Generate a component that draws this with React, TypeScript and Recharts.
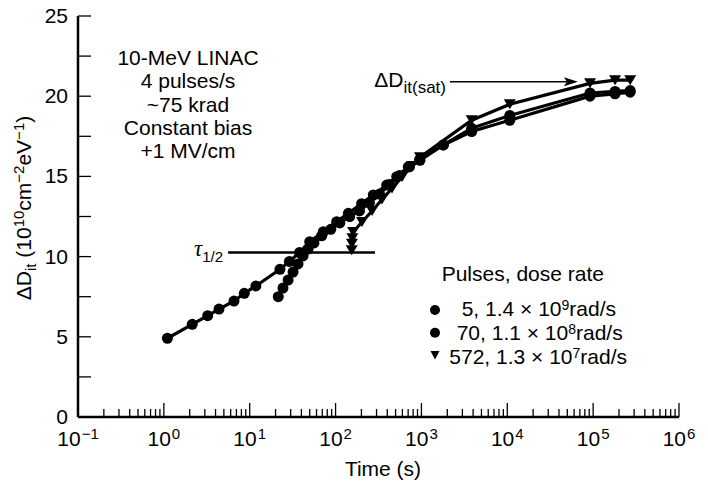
import React from "react";
import { ComposedChart, Line, XAxis, YAxis, ReferenceLine } from "recharts";

// 5 pulses, 1.4e9 rad/s (circles)
const A_T = [1.1, 2.14, 3.24, 4.39, 6.56, 8.65, 11.8, 22.5, 29, 38, 50, 72, 103, 141, 201, 275, 394, 515, 703, 962, 1800, 3850, 10700, 92000, 180000, 270000];
const A_V = [4.91, 5.78, 6.32, 6.73, 7.23, 7.71, 8.17, 9.21, 9.7, 10.25, 10.93, 11.55, 12.18, 12.7, 13.3, 13.84, 14.46, 14.98, 15.6, 16.0, 16.96, 18.0, 18.8, 20.2, 20.3, 20.35];

// 70 pulses, 1.1e8 rad/s (circles)
const B_T = [21.5, 24.4, 28, 32, 36.5, 41.8, 47.8, 56, 69, 88, 112, 146, 190, 248, 325, 425, 555, 725, 950, 1800, 3850, 10700, 92000, 180000, 270000];
const B_V = [7.5, 8.04, 8.54, 9.04, 9.54, 10.04, 10.47, 10.85, 11.3, 11.7, 12.1, 12.5, 12.85, 13.35, 13.9, 14.5, 15.05, 15.6, 16.05, 16.96, 17.8, 18.5, 20.0, 20.15, 20.25];

// 572 pulses, 1.3e7 rad/s (triangles)
const C_T = [154, 155, 157, 160, 203, 266, 347, 454, 594, 777, 962, 3850, 10700, 92000, 180000, 270000];
const C_V = [10.4, 10.8, 11.15, 11.53, 12.16, 12.84, 13.56, 14.25, 14.96, 15.65, 16.2, 18.5, 19.5, 20.8, 21.0, 21.0];

const DECADES = [0.1, 1, 10, 100, 1000, 10000, 100000, 1000000];
const DECADE_EXP = ["−1", "0", "1", "2", "3", "4", "5", "6"];
const Y_TICKS = [0, 2.5, 5, 7.5, 10, 12.5, 15, 17.5, 20, 22.5, 25];
const Y_LABELS = [0, 5, 10, 15, 20, 25];

// half-life marker and saturation arrow (time, value)
const TAU_T = [5.6, 288];
const TAU_V = 10.25;
const SAT_T = [2150, 66500];
const SAT_V = 20.9;

const INFO_LINES = ["10-MeV LINAC", "4 pulses/s", "~75 krad", "Constant bias", "+1 MV/cm"];

const X_TICKS: number[] = [];
DECADES.forEach((d, i) => {
  X_TICKS.push(d);
  if (i < DECADES.length - 1) [2, 3, 4, 5, 6, 7, 8, 9].forEach((k) => X_TICKS.push(k * d));
});

const toRows = (t: number[], v: number[]) => t.map((x, i) => ({ t: x, v: v[i] }));
const dataA = toRows(A_T, A_V);
const dataB = toRows(B_T, B_V);
const dataC = toRows(C_T, C_V);

const FONT = "'Liberation Sans', Arial, Helvetica, sans-serif";
const FS = 21;
const SUP = 15;

const isMajor = (v: number) => DECADES.some((d) => Math.abs(d - v) / d < 1e-9);

function BottomTick(props: any) {
  const { x, y, payload } = props;
  const idx = DECADES.findIndex((d) => Math.abs(d - payload.value) / d < 1e-9);
  const major = idx >= 0;
  return (
    <g>
      <line x1={x} x2={x} y1={y} y2={y - (major ? 14 : 8)} stroke="#000" strokeWidth={1.3} />
      {major && (
        <text x={x} y={y + 29} textAnchor="middle" fontFamily={FONT} fontSize={FS} fill="#000">
          10<tspan dx={1} dy={-7} fontSize={SUP}>{DECADE_EXP[idx]}</tspan>
        </text>
      )}
    </g>
  );
}

function TopTick(props: any) {
  const { x, y, payload } = props;
  const major = isMajor(payload.value);
  return <line x1={x} x2={x} y1={y} y2={y + (major ? 14 : 8)} stroke="#000" strokeWidth={1.3} />;
}

function LeftTick(props: any) {
  const { x, y, payload } = props;
  const labeled = Y_LABELS.includes(payload.value);
  return (
    <g>
      <line x1={x} x2={x + 13} y1={y} y2={y} stroke="#000" strokeWidth={1.3} />
      {labeled && (
        <text x={x - 10} y={y + 7} textAnchor="end" fontFamily={FONT} fontSize={FS} fill="#000">
          {payload.value}
        </text>
      )}
    </g>
  );
}

function RightTick(props: any) {
  const { x, y } = props;
  return <line x1={x} x2={x - 13} y1={y} y2={y} stroke="#000" strokeWidth={1.3} />;
}

function CircleDot(props: any) {
  const { cx, cy, index } = props;
  return <circle key={index} cx={cx} cy={cy} r={5.5} fill="#000" />;
}

function TriDot(props: any) {
  const { cx, cy, index } = props;
  return <polygon key={index} points={`${cx - 6},${cy - 5} ${cx + 6},${cy - 5} ${cx},${cy + 5}`} fill="#000" />;
}

function TauShape(props: any) {
  const { x1, y1, x2, y2 } = props;
  return (
    <g>
      <line x1={x1} y1={y1} x2={x2} y2={y2} stroke="#000" strokeWidth={2.5} />
      <text x={x1 - 5} y={y1 + 3} textAnchor="end" fontFamily="'Liberation Serif', 'Times New Roman', serif" fontSize={23} fontStyle="italic" fill="#000">
        τ<tspan dy={6} fontSize={15} fontStyle="normal" fontFamily={FONT}>1/2</tspan>
      </text>
    </g>
  );
}

function SatShape(props: any) {
  const { x1, y1, x2, y2 } = props;
  return (
    <g>
      <line x1={x1} y1={y1} x2={x2 - 10} y2={y2} stroke="#000" strokeWidth={1.5} />
      <polygon points={`${x2},${y2} ${x2 - 14},${y2 - 4.5} ${x2 - 11},${y2} ${x2 - 14},${y2 + 4.5}`} fill="#000" />
      <text x={x1 - 4} y={y1 + 5} textAnchor="end" fontFamily={FONT} fontSize={FS} fill="#000">
        ΔD<tspan dy={6.5} fontSize={17}>it(sat)</tspan>
      </text>
    </g>
  );
}

function Overlay() {
  const legendRows = [
    { x: 461.7, y: 316, pre: "5, 1.4 × 10", sup: "9", mark: "c", my: 310 },
    { x: 456.7, y: 339.5, pre: "70, 1.1 × 10", sup: "8", mark: "c", my: 332.7 },
    { x: 449.3, y: 363.5, pre: "572, 1.3 × 10", sup: "7", mark: "t", my: 355 },
  ];
  return (
    <svg width={708} height={481} style={{ position: "absolute", left: 0, top: 0, pointerEvents: "none" }}>
      {INFO_LINES.map((s, i) => (
        <text key={s} x={188} y={65 + i * 23.3} textAnchor="middle" fontFamily={FONT} fontSize={FS} fill="#000">
          {s}
        </text>
      ))}
      <text x={441.7} y={280.5} fontFamily={FONT} fontSize={FS} fill="#000">
        Pulses, dose rate
      </text>
      {legendRows.map((r) => (
        <g key={r.pre}>
          {r.mark === "c" ? (
            <circle cx={435} cy={r.my} r={5} fill="#000" />
          ) : (
            <polygon points={`${435 - 4.5},${r.my - 4} ${435 + 4.5},${r.my - 4} ${435},${r.my + 4.5}`} fill="#000" />
          )}
          <text x={r.x} y={r.y} fontFamily={FONT} fontSize={FS} fill="#000">
            {r.pre}
            <tspan dy={-6} fontSize={14}>{r.sup}</tspan>
            <tspan dy={6}>rad/s</tspan>
          </text>
        </g>
      ))}
      <text x={383} y={476} textAnchor="middle" fontFamily={FONT} fontSize={FS} fill="#000">
        Time (s)
      </text>
      <text transform="translate(31,208) rotate(-90)" textAnchor="middle" fontFamily={FONT} fontSize={FS} fill="#000">
        ΔD<tspan dy={5} fontSize={SUP}>it</tspan>
        <tspan dy={-5}> (10</tspan>
        <tspan dy={-7} fontSize={SUP}>10</tspan>
        <tspan dy={7}>cm</tspan>
        <tspan dy={-7} fontSize={SUP}>−2</tspan>
        <tspan dy={7}>eV</tspan>
        <tspan dy={-7} fontSize={SUP}>−1</tspan>
        <tspan dy={7}>)</tspan>
      </text>
    </svg>
  );
}

export default function App() {
  return (
    <div style={{ position: "absolute", left: 0, top: 0, width: 708, height: 481, background: "#fff" }}>
      <ComposedChart width={708} height={481} margin={{ top: 16, right: 29, bottom: 0, left: 0 }}>
        <XAxis
          xAxisId="b"
          dataKey="t"
          type="number"
          scale="log"
          domain={[0.1, 1000000]}
          allowDataOverflow
          ticks={X_TICKS}
          interval={0}
          orientation="bottom"
          height={64}
          tickSize={0}
          tickMargin={0}
          tickLine={false}
          tick={<BottomTick />}
          axisLine={{ stroke: "#000", strokeWidth: 2.5 }}
        />
        <XAxis
          xAxisId="top"
          dataKey="t"
          type="number"
          scale="log"
          domain={[0.1, 1000000]}
          allowDataOverflow
          ticks={X_TICKS}
          interval={0}
          orientation="top"
          height={0}
          tickSize={0}
          tickMargin={0}
          tickLine={false}
          tick={<TopTick />}
          axisLine={{ stroke: "#000", strokeWidth: 2.5 }}
        />
        <YAxis
          yAxisId="l"
          type="number"
          domain={[0, 25]}
          ticks={Y_TICKS}
          interval={0}
          width={78}
          tickSize={0}
          tickMargin={0}
          tickLine={false}
          tick={<LeftTick />}
          axisLine={{ stroke: "#000", strokeWidth: 2.5 }}
        />
        <YAxis
          yAxisId="r"
          orientation="right"
          type="number"
          domain={[0, 25]}
          ticks={Y_TICKS}
          interval={0}
          width={0}
          tickSize={0}
          tickMargin={0}
          tickLine={false}
          tick={<RightTick />}
          axisLine={{ stroke: "#000", strokeWidth: 2.5 }}
        />
        <ReferenceLine
          xAxisId="b"
          yAxisId="l"
          segment={[{ x: TAU_T[0], y: TAU_V }, { x: TAU_T[1], y: TAU_V }]}
          shape={<TauShape />}
        />
        <ReferenceLine
          xAxisId="b"
          yAxisId="l"
          segment={[{ x: SAT_T[0], y: SAT_V }, { x: SAT_T[1], y: SAT_V }]}
          shape={<SatShape />}
        />
        <Line xAxisId="b" yAxisId="l" data={dataA} dataKey="v" type="linear" stroke="#000" strokeWidth={3.2} dot={<CircleDot />} isAnimationActive={false} />
        <Line xAxisId="b" yAxisId="l" data={dataB} dataKey="v" type="linear" stroke="#000" strokeWidth={3.2} dot={<CircleDot />} isAnimationActive={false} />
        <Line xAxisId="b" yAxisId="l" data={dataC} dataKey="v" type="linear" stroke="#000" strokeWidth={3.2} dot={<TriDot />} isAnimationActive={false} />
      </ComposedChart>
      <Overlay />
    </div>
  );
}
